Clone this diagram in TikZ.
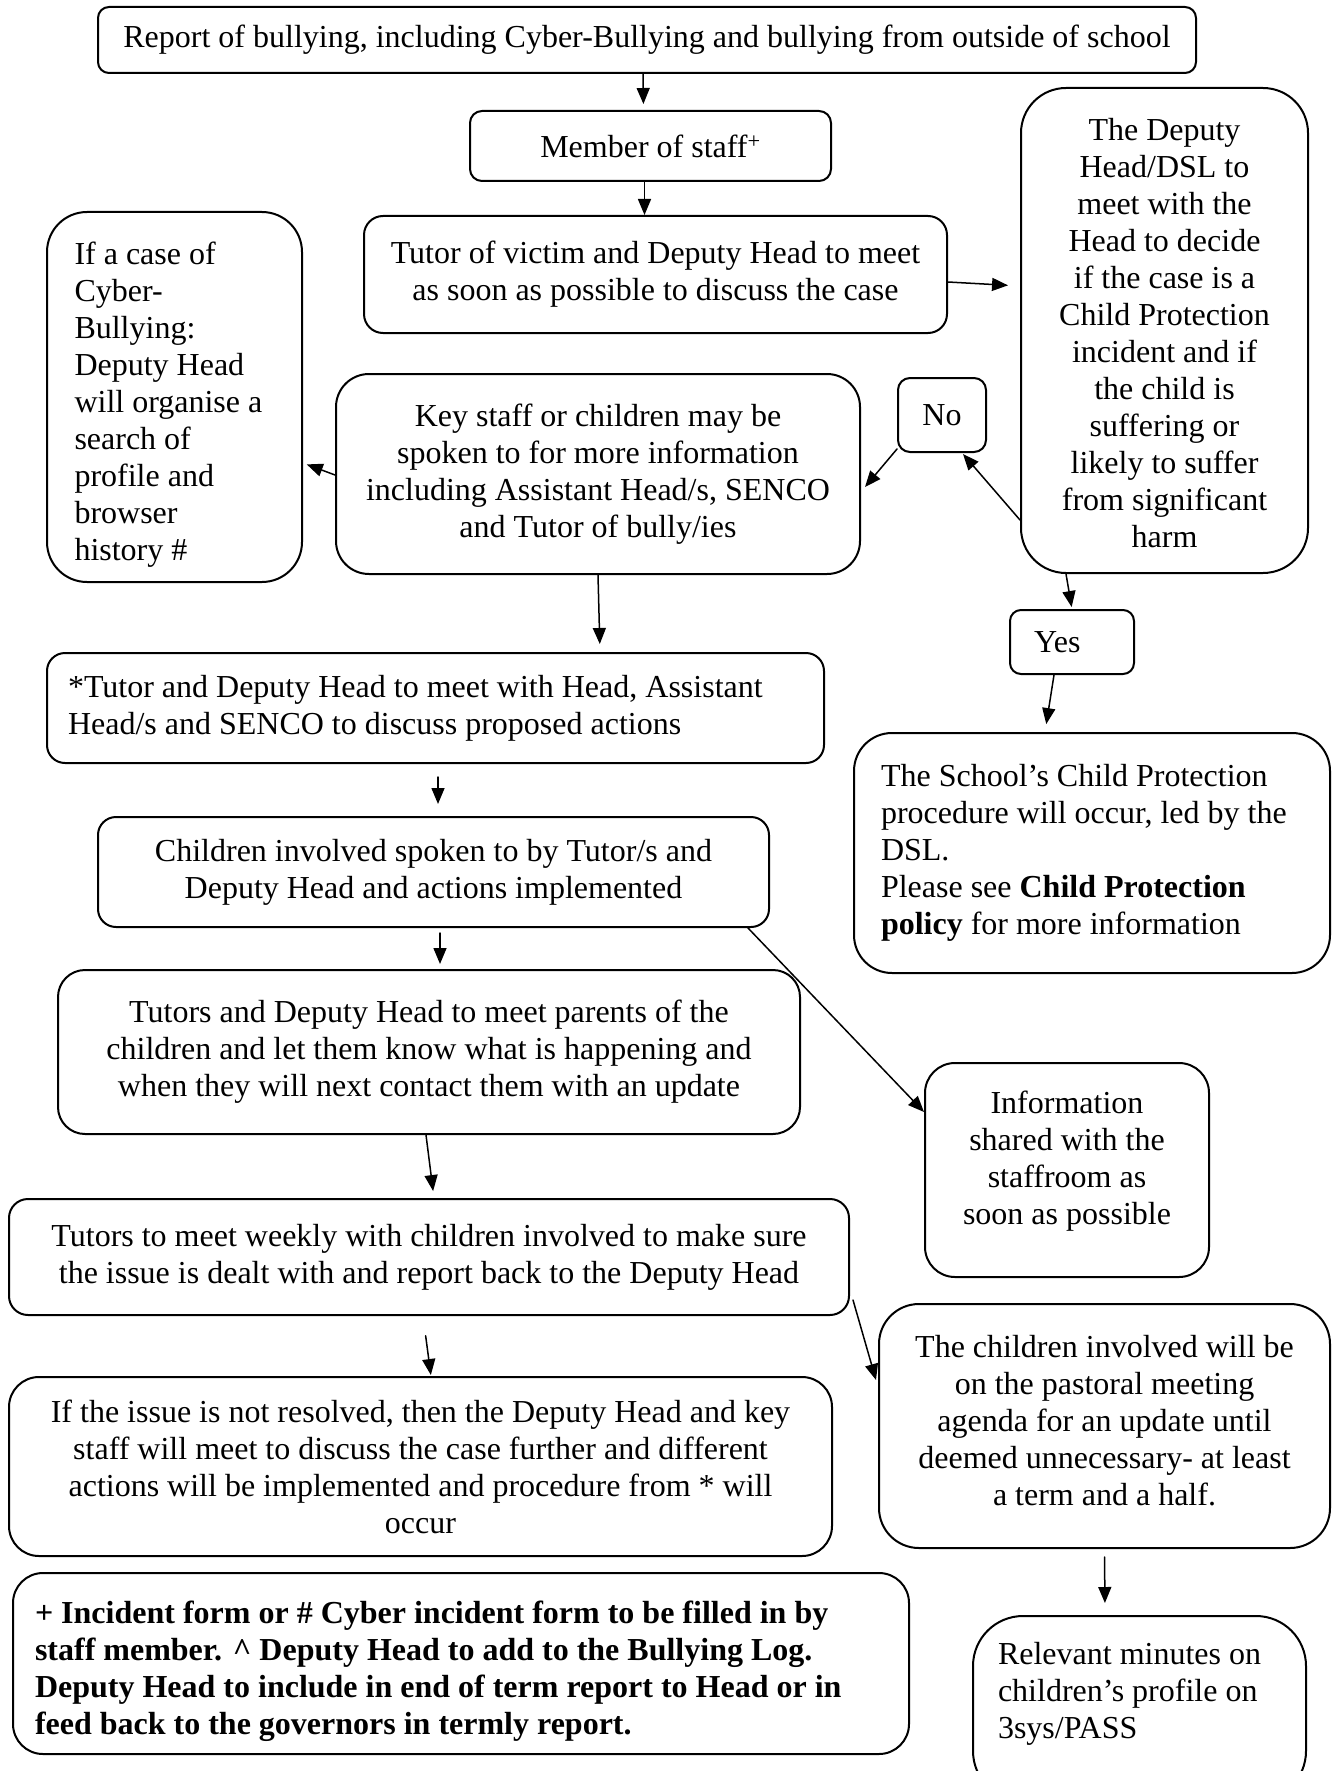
\documentclass[tikz,border=0pt]{standalone}
\usepackage{fontspec}
\setmainfont{Liberation Serif}
\usetikzlibrary{arrows.meta}

\begin{document}
\begin{tikzpicture}[x=1pt, y=-1pt, >={Triangle[length=16pt,width=13pt]}, line cap=round, line join=round,
		box/.style={draw, line width=2pt, rounded corners=#1, inner sep=0pt, align=flush center, font=\fontsize{32}{37}\selectfont},
		box/.default=15pt,
		link/.style={->, line width=1.5pt}]
		\clip (0,0) rectangle (1333,1771);
		\fill[white] (0,0) rectangle (1333,1771);
		
		% main column
		\node[box=11pt, minimum width=1098pt, minimum height=66pt, text width=1080pt] (report) at (647,40) {Report of bullying, including Cyber-Bullying and bullying from outside of school};
		\node[box=12pt, minimum width=361pt, minimum height=70pt, text width=340pt] (staff) at (650.5,146) {Member of staff\textsuperscript{+}};
		\node[box=19pt, minimum width=583pt, minimum height=117pt, text width=570pt] (tutor) at (655.5,274.5) {Tutor of victim and Deputy Head to meet\\as soon as possible to discuss the case};
		\node[box=33pt, minimum width=524pt, minimum height=200pt, text width=510pt] (key) at (598,474) {Key staff or children may be\\spoken to for more information\\including Assistant Head/s, SENCO\\and Tutor of bully/ies};
		\node[box=18pt, align=flush left, minimum width=777pt, minimum height=110pt, text width=735pt] (star) at (435.5,708) {*Tutor and Deputy Head to meet with Head, Assistant\\Head/s and SENCO to discuss proposed actions};
		\node[box=18pt, minimum width=671pt, minimum height=110pt, text width=650pt] (child) at (433.5,872) {Children involved spoken to by Tutor/s and\\Deputy Head and actions implemented};
		\node[box=27pt, minimum width=742pt, minimum height=164pt, text width=720pt] (parents) at (429,1052) {Tutors and Deputy Head to meet parents of the\\children and let them know what is happening and\\when they will next contact them with an update};
		\node[box=19pt, minimum width=840pt, minimum height=116pt, text width=820pt] (weekly) at (429,1257) {Tutors to meet weekly with children involved to make sure\\the issue is dealt with and report back to the Deputy Head};
		\node[box=30pt, minimum width=823pt, minimum height=179pt, text width=800pt] (resolved) at (420.5,1466.5) {If the issue is not resolved, then the Deputy Head and key\\staff will meet to discuss the case further and different\\actions will be implemented and procedure from * will\\occur};
		\node[box=30pt, align=flush left, minimum width=896pt, minimum height=181pt, text width=852pt, font=\fontsize{32}{37}\selectfont\bfseries] (note) at (461,1663.5) {\rule{0pt}{38pt}+ Incident form or \# Cyber incident form to be filled in by\\staff member. \textasciicircum{} Deputy Head to add to the Bullying Log.\\Deputy Head to include in end of term report to Head or in\\feed back to the governors in termly report.};
		
		% side boxes
		\node[box=40pt, align=flush left, minimum width=255pt, minimum height=370pt, text width=200pt] (cyber) at (174.5,397) {\rule{0pt}{38pt}If a case of\\Cyber-\\Bullying:\\Deputy Head\\will organise a\\search of\\profile and\\browser\\history \#};
		\node[box=45pt, minimum width=287pt, minimum height=485pt, text width=270pt] (dsl) at (1164.5,330.5) {\rule{0pt}{28pt}The Deputy\\Head/DSL to\\meet with the\\Head to decide\\if the case is a\\Child Protection\\incident and if\\the child is\\suffering or\\likely to suffer\\from significant\\harm};
		\node[box=12pt, minimum width=88pt, minimum height=74pt, text width=80pt] (no) at (942,415) {No};
		\node[box=11pt, align=flush left, minimum width=124pt, minimum height=64pt, text width=76pt] (yes) at (1072,642) {Yes};
		\node[box=38pt, align=flush left, minimum width=476pt, minimum height=240pt, text width=422pt] (cp) at (1092,853) {The School’s Child Protection\\procedure will occur, led by the\\DSL.\\Please see \textbf{Child Protection}\\\textbf{policy} for more information};
		\node[box=30pt, minimum width=284pt, minimum height=214pt, text width=270pt] (info) at (1067,1170) {Information\\shared with the\\staffroom as\\soon as possible\rule[-25pt]{0pt}{0pt}};
		\node[box=40pt, minimum width=451pt, minimum height=244pt, text width=435pt] (pastoral) at (1104.5,1426) {The children involved will be\\on the pastoral meeting\\agenda for an update until\\deemed unnecessary- at least\\a term and a half.\rule[-12pt]{0pt}{0pt}};
		\node[box=50pt, align=flush left, anchor=north, minimum width=333pt, minimum height=185pt, text width=283pt] (minutes) at (1139.5,1615) {Relevant minutes on\\children’s profile on\\3sys/PASS\\\mbox{}};
		
		% arrows
		\draw[link, shorten >=6pt] ([xshift=-4pt]report.south) -- ([xshift=-7pt]staff.north);
		\draw[link] ([xshift=-6pt]staff.south) -- ([xshift=-11pt]tutor.north);
		\draw[link, shorten >=12pt] ([yshift=-7.5pt]tutor.east) -- ([yshift=44.5pt]dsl.west);
		\draw[link, shorten >=4pt] ([yshift=-1pt]key.west) -- ([yshift=-66pt]cyber.east);
		\draw[link] ([yshift=4pt]no.south west) -- ([xshift=4pt, yshift=-13pt]key.east);
		\draw[link] ([yshift=-189.5pt]dsl.west) -- ([xshift=-24pt, yshift=-1pt]no.south east);
		\draw[link, shorten >=2pt] ([xshift=-98.5pt]dsl.south) -- (yes.north);
		\draw[link, shorten >=8pt] ([xshift=-18pt]yes.south) -- ([xshift=-47pt]cp.north);
		\draw[link, shorten >=8pt] (key.south) -- ([xshift=164.5pt]star.north);
		\draw[link, shorten <=13pt, shorten >=12pt] ([xshift=2.5pt]star.south) -- ([xshift=4.5pt]child.north);
		\draw[link, shorten <=5pt, shorten >=5pt] ([xshift=6.5pt]child.south) -- ([xshift=11pt]parents.north);
		\draw[link] ([xshift=-22pt]child.south east) -- ([yshift=58pt]info.west);
		\draw[link, shorten >=7pt] ([xshift=-3pt]parents.south) -- ([xshift=5pt]weekly.north);
		\draw[link, shorten <=20pt, shorten >=1pt] ([xshift=-6pt]weekly.south) -- ([xshift=10.5pt]resolved.north);
		\draw[link] ([xshift=3pt, yshift=-43pt]weekly.east) -- ([xshift=-2pt, yshift=46pt]pastoral.west);
		\draw[link, shorten <=8pt, shorten >=12pt] (pastoral.south) -- ([xshift=-34.5pt]minutes.north);
	\end{tikzpicture}
\end{document}
